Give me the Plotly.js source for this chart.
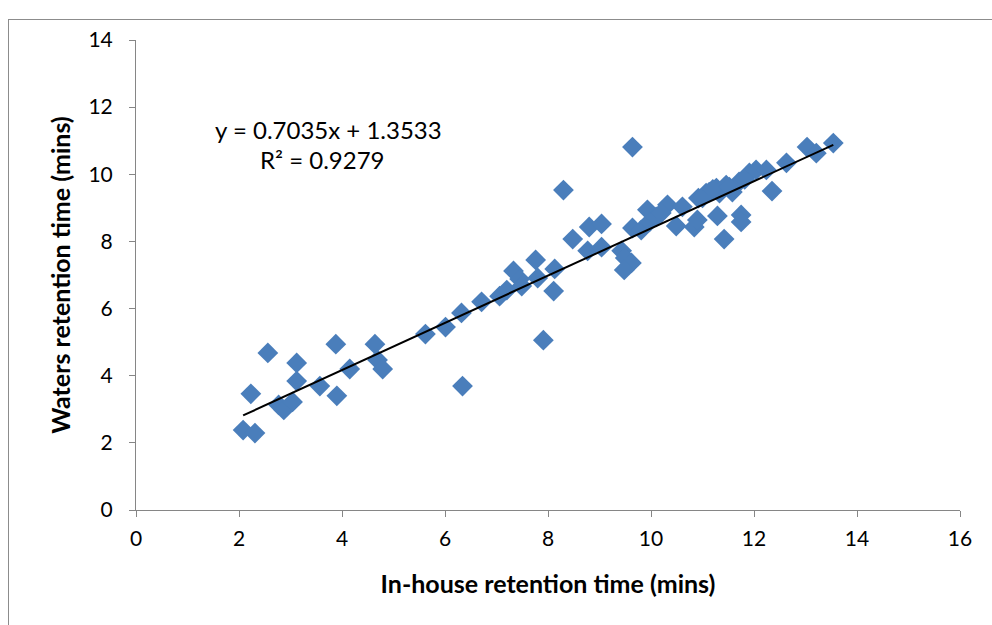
<!DOCTYPE html>
<html>
<head>
<meta charset="utf-8">
<script src="https://cdn.plot.ly/plotly-3.0.1.min.js"></script>
<style>
html,body{margin:0;padding:0;width:992px;height:625px;overflow:hidden;background:#fff;}
#frame{position:absolute;left:8px;top:19px;width:1100px;height:700px;border:1px solid #8c8c8c;box-sizing:border-box;pointer-events:none;z-index:5;}
#chart{position:absolute;left:0;top:0;width:992px;height:625px;}
</style>
</head>
<body>
<div id="chart"></div>
<div id="frame"></div>
<script>
const inHouse = [2.08,2.31,2.23,2.56,2.77,2.87,3.04,3.12,3.12,3.57,3.88,3.90,4.15,4.64,4.69,4.79,
  5.62,6.01,6.32,6.34,6.71,7.06,7.20,7.33,7.45,7.49,7.76,7.80,7.91,8.11,8.13,8.30,8.48,8.77,8.80,
  9.04,9.04,9.43,9.50,9.62,9.48,9.64,9.64,9.81,9.93,9.97,10.10,10.32,10.49,10.61,10.84,10.90,10.92,
  11.07,11.13,11.27,11.29,11.33,11.42,11.46,11.58,11.71,11.75,11.75,11.91,12.04,12.24,12.35,12.63,
  13.03,13.21,13.54,11.00,11.20,11.52,11.82,10.20];
const waters = [2.38,2.29,3.46,4.68,3.13,2.98,3.22,3.84,4.38,3.69,4.94,3.40,4.20,4.94,4.47,4.20,
  5.24,5.45,5.87,3.69,6.20,6.37,6.55,7.12,6.88,6.67,7.45,6.91,5.06,6.52,7.18,9.53,8.07,7.72,8.43,
  7.83,8.52,7.72,7.51,7.36,7.15,10.81,8.40,8.34,8.94,8.58,8.73,9.09,8.46,9.03,8.43,8.64,9.29,
  9.44,9.47,9.59,8.76,9.44,8.07,9.68,9.47,9.77,8.79,8.58,10.04,10.13,10.13,9.50,10.34,
  10.81,10.63,10.93,9.30,9.55,9.62,9.85,8.85];
const slope = 0.7035, intercept = 1.3533, r2 = 0.9279;
const xTicks = [0,2,4,6,8,10,12,14,16];
const yTicks = [0,2,4,6,8,10,12,14];

const xMin = Math.min(...inHouse), xMax = Math.max(...inHouse);
const fitX = [xMin, xMax];
const fitY = fitX.map(v => slope*v + intercept);

const font = "Lato, 'Open Sans', sans-serif";
const data = [
  {x: inHouse, y: waters, type:'scatter', mode:'markers',
   marker:{symbol:'diamond', size:16, color:'#4a7ebb', line:{width:0}}, hoverinfo:'x+y'},
  {x: fitX, y: fitY, type:'scatter', mode:'lines', line:{color:'#000', width:2}, hoverinfo:'skip'}
];
const axisCommon = {showgrid:false, zeroline:false, showline:true, linecolor:'#868686', linewidth:1,
  ticks:'outside', ticklen:6, tickcolor:'#868686', tickfont:{family:font, size:21, color:'#000'}};
const layout = {
  width:992, height:625, showlegend:false,
  margin:{l:136, r:32, t:40, b:115},
  paper_bgcolor:'rgba(0,0,0,0)', plot_bgcolor:'#fff',
  xaxis:Object.assign({}, axisCommon, {range:[0,16], tickvals:xTicks, ticktext:xTicks.map(String),
    ticklabelstandoff:4,
    title:{text:'<b>In-house retention time (mins)</b>', font:{family:font, size:25, color:'#000'}, standoff:26}}),
  yaxis:Object.assign({}, axisCommon, {range:[0,14], tickvals:yTicks, ticktext:yTicks.map(String),
    ticklabelstandoff:12,
    title:{text:'<b>Waters retention time (mins)</b>', font:{family:font, size:25, color:'#000'}, standoff:10}}),
  annotations:[
    {xref:'x', yref:'y', x:3.73, y:11.32, text:'y = '+slope.toFixed(4)+'x + '+intercept.toFixed(4),
     showarrow:false, font:{family:font, size:24, color:'#000'}},
    {xref:'x', yref:'y', x:3.63, y:10.43, text:'R² = '+r2.toFixed(4),
     showarrow:false, font:{family:font, size:24, color:'#000'}}
  ]
};
Plotly.newPlot('chart', data, layout, {displayModeBar:false, staticPlot:true});
</script>
</body>
</html>
